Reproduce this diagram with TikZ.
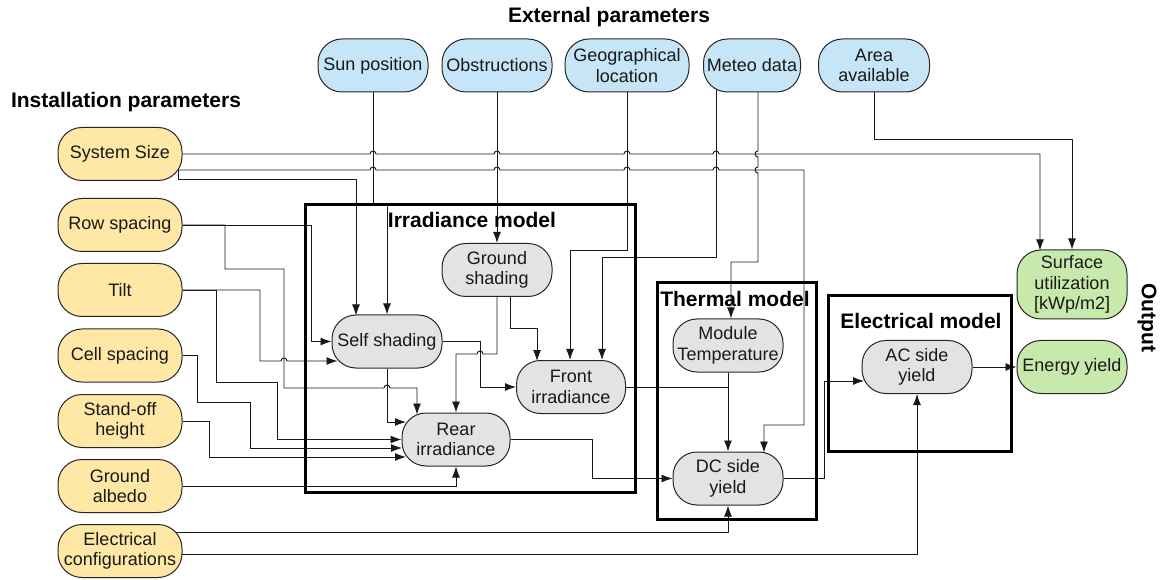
\documentclass[tikz,border=0pt]{standalone}
\usepackage{fontspec}
\setmainfont{Liberation Sans}
\usetikzlibrary{arrows.meta,backgrounds,calc}
\definecolor{instyellow}{HTML}{FFE8A6}
\definecolor{extblue}{HTML}{C6E5F6}
\definecolor{modgray}{HTML}{E3E3E3}
\definecolor{outgreen}{HTML}{C8E9AC}
\tikzset{param/.style={draw=black!85,line width=1pt,rounded corners=24pt,minimum height=53pt,inner sep=1pt,align=center,font=\fontsize{18}{20.5}\selectfont,text=black!90}}
\tikzset{inst/.style={param,fill=instyellow,minimum width=124pt}}
\tikzset{ext/.style={param,fill=extblue,minimum width=110pt}}
\tikzset{calcbox/.style={param,fill=modgray,minimum width=110pt}}
\tikzset{result/.style={param,fill=outgreen,minimum width=110pt}}
\tikzset{frame/.style={draw=black,line width=3pt}}
\tikzset{heading/.style={font=\bfseries\fontsize{21}{24}\selectfont,inner sep=0pt}}
\tikzset{link/.style={draw=black!90,line width=0.9pt}}
\tikzset{flow/.style={link,-{Latex[length=11pt,width=8pt]}}}

\begin{document}
\begin{tikzpicture}[x=1pt,y=-1pt]
  \useasboundingbox (0,0) rectangle (1163,580);
  % installation parameters
  \node[heading] (insthead) at (126,102) {Installation parameters};
  \node[inst] (syssize) at (120,154) {System Size};
  \node[inst] (rowsp) at (120,225) {Row spacing};
  \node[inst] (tilt) at (120,290) {Tilt};
  \node[inst] (cellsp) at (120,355.5) {Cell spacing};
  \node[inst] (standoff) at (120,421) {Stand-off\\height};
  \node[inst] (albedo) at (120,486) {Ground\\albedo};
  \node[inst] (elconf) at (120,551) {Electrical\\configurations};
  % external parameters
  \node[heading] (exthead) at (609,17) {External parameters};
  \node[ext] (sunpos) at (373,65.5) {Sun position};
  \node[ext] (obstr) at (497,65.5) {Obstructions};
  \node[ext,minimum width=124pt] (geoloc) at (627,65.5) {Geographical\\location};
  \node[ext,minimum width=97pt] (meteo) at (752,65.5) {Meteo data};
  \node[ext,minimum width=111pt] (area) at (874,65.5) {Area\\available};
  % models
  \node[heading] (irrhead) at (472,220) {Irradiance model};
  \node[heading] (thermhead) at (735,299) {Thermal model};
  \node[heading] (elechead) at (921,321) {Electrical model};
  \node[calcbox] (selfsh) at (387,341.5) {Self shading};
  \node[calcbox] (groundsh) at (497,270) {Ground\\shading};
  \node[calcbox,minimum width=109pt] (frontirr) at (571,387) {Front\\irradiance};
  \node[calcbox,minimum width=108pt] (rearirr) at (456,439.5) {Rear\\irradiance};
  \node[calcbox] (modtemp) at (728,345.5) {Module\\Temperature};
  \node[calcbox] (dcyield) at (728,478.5) {DC side\\yield};
  \node[calcbox] (acyield) at (917,367) {AC side\\yield};
  % outputs
  \node[result,minimum height=69pt] (surfutil) at (1072,284.5) {Surface\\utilization\\{}[kWp/m2]};
  \node[result] (energy) at (1072,367) {Energy yield};
  \node[heading,rotate=-90] (outhead) at (1147,318) {Output};

  \begin{pgfonlayer}{background}
  % system size
  \draw[flow] (syssize.east) -- (370,154) arc[start angle=180,end angle=0,radius=3pt] -- (494,154) arc[start angle=180,end angle=0,radius=3pt]
    -- (624,154) arc[start angle=180,end angle=0,radius=3pt] -- (713,154) arc[start angle=180,end angle=0,radius=3pt] -- (1040,154) -- ([xshift=-32pt,yshift=-1pt]surfutil.north);
  \draw[flow] ([yshift=-16pt]syssize.center) -- (370,170) arc[start angle=180,end angle=0,radius=3pt] -- (494,170) arc[start angle=180,end angle=0,radius=3pt]
    -- (624,170) arc[start angle=180,end angle=0,radius=3pt] -- (713,170) arc[start angle=180,end angle=0,radius=3pt] -- (804,170) -- (804,425) -| ([xshift=36pt,yshift=-1pt]dcyield.north);
  \draw[flow] ([yshift=-16pt]syssize.center) -| (178,179) -| ([xshift=-31pt,yshift=-1pt]selfsh.north);
  % external parameters
  \draw[flow] (sunpos.south) -- (373,205) -| (selfsh.north);
  \draw[flow] (obstr.south) -- (groundsh.north);
  \draw[flow] (geoloc.south) -- (627,250) -| ([xshift=-1pt]frontirr.north);
  \draw[flow] ([xshift=-36pt]meteo.center) -- (716,257) -| ([xshift=31pt]frontirr.north);
  \draw[flow] ([xshift=6pt]meteo.center) -- (758,151) arc[start angle=90,end angle=270,radius=3pt] -- (758,167) arc[start angle=90,end angle=270,radius=3pt]
    -- (758,262) -| ([xshift=3pt]modtemp.north);
  \draw[flow] (area.south) -- (874,139) -| (surfutil.north);
  % geometry inputs
  \draw[flow] (rowsp.east) -- (311,225) |- (selfsh.west);
  \draw[flow] (rowsp.east) -- (225,225) |- (284,269) -- (284,388) -- (384,388) arc[start angle=180,end angle=0,radius=3pt] -| ([xshift=-39pt,yshift=-2pt]rearirr.north);
  \draw[flow] (tilt.east) -- (260,290) -- (260,361) -- (281,361) arc[start angle=180,end angle=0,radius=3pt] -- ([xshift=6pt,yshift=-19.5pt]selfsh.west);
  \draw[flow] (tilt.east) -- (216,290) |- (277,382) |- (rearirr.west);
  \draw[flow] (cellsp.east) -- (197,355.5) |- (250,402) |- ([xshift=0.5pt,yshift=-8.5pt]rearirr.west);
  \draw[flow] (standoff.east) -- (209,421) |- ([xshift=4.5pt,yshift=-17.5pt]rearirr.west);
  \draw[flow] (albedo.east) -| (rearirr.south);
  % irradiance model
  \draw[flow] (selfsh.south) |- ([xshift=4.5pt,yshift=17.5pt]rearirr.west);
  \draw[flow] (selfsh.east) -- ++(38,0) |- (frontirr.west);
  \draw[flow] (groundsh.south) |- (483,354) arc[start angle=0,end angle=180,radius=3pt] -| (rearirr.north);
  \draw[flow] ([xshift=13pt]groundsh.south) -- ++(0,31.5) -| ([xshift=-34pt,yshift=-1pt]frontirr.north);
  % thermal and electrical model
  \draw[link] (frontirr.east) -- (frontirr.east -| modtemp.south);
  \draw[flow] (modtemp.south) -- (dcyield.north);
  \draw[flow] (rearirr.east) -- ++(82,0) |- (dcyield.west);
  \draw[flow] (dcyield.east) -- ++(41,0) |- ([xshift=2.5pt,yshift=-14pt]acyield.west);
  \draw[flow] (acyield.east) -- (energy.west);
  \draw[flow] ([yshift=19pt]elconf.center) -| (dcyield.south);
  \draw[flow] ([yshift=-3pt]elconf.center) -| (acyield.south);
  % model frames
  \draw[frame] (305,205) rectangle (635,492);
  \draw[frame] (657,283) rectangle (816,519);
  \draw[frame] (828,296) rectangle (1011,451);
  \end{pgfonlayer}
\end{tikzpicture}
\end{document}
